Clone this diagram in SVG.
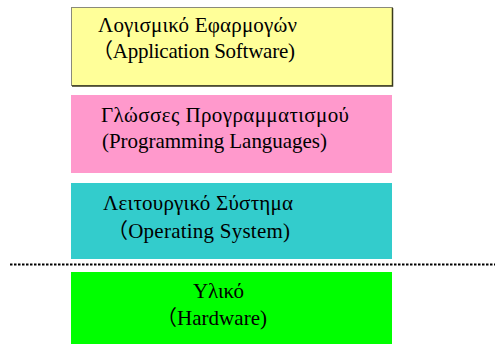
<svg xmlns="http://www.w3.org/2000/svg" width="495" height="344" viewBox="0 0 495 344">
<style>
.box{stroke:none}
.t{font-family:'Liberation Serif',serif;font-size:21px;fill:#000}
.p{font-family:'Noto Sans CJK SC',sans-serif}
</style>
<rect width="495" height="344" fill="#fff"/>
<g id="app">
<rect x="71.5" y="7.5" width="321" height="78" fill="#FFFF99" stroke="#8a8a7a" stroke-width="1"/>
<path d="M392.5 8 V86 H72" fill="none" stroke="#3a3a1a" stroke-width="1.5"/>
<text class="t" x="98" y="32" textLength="199">Λογισμικό Εφαρμογών</text>
<text class="t" x="92" y="58" textLength="203"><tspan class="p">（</tspan>Application Software)</text>
</g>
<g id="lang">
<rect class="box" x="71" y="95" width="321" height="78" fill="#FF99CC"/>
<text class="t" x="101" y="122" textLength="248">Γλώσσες Προγραμματισμού</text>
<text class="t" x="102" y="148" textLength="225">(Programming Languages)</text>
</g>
<g id="os">
<rect class="box" x="71" y="183" width="321" height="76" fill="#33CCCC"/>
<text class="t" x="103" y="210" textLength="190">Λειτουργικό Σύστημα</text>
<text class="t" x="107" y="238" textLength="183"><tspan class="p">（</tspan>Operating System)</text>
</g>
<g id="connectors">
<line x1="10" y1="264.5" x2="495" y2="264.5" stroke="#000" stroke-width="2" stroke-dasharray="2.5 1.5"/>
</g>
<g id="hw">
<rect class="box" x="71" y="272" width="321" height="72" fill="#00FF00"/>
<text class="t" x="193" y="298" textLength="51">Υλικό</text>
<text class="t" x="156" y="325" textLength="111"><tspan class="p">（</tspan>Hardware)</text>
</g>
</svg>
